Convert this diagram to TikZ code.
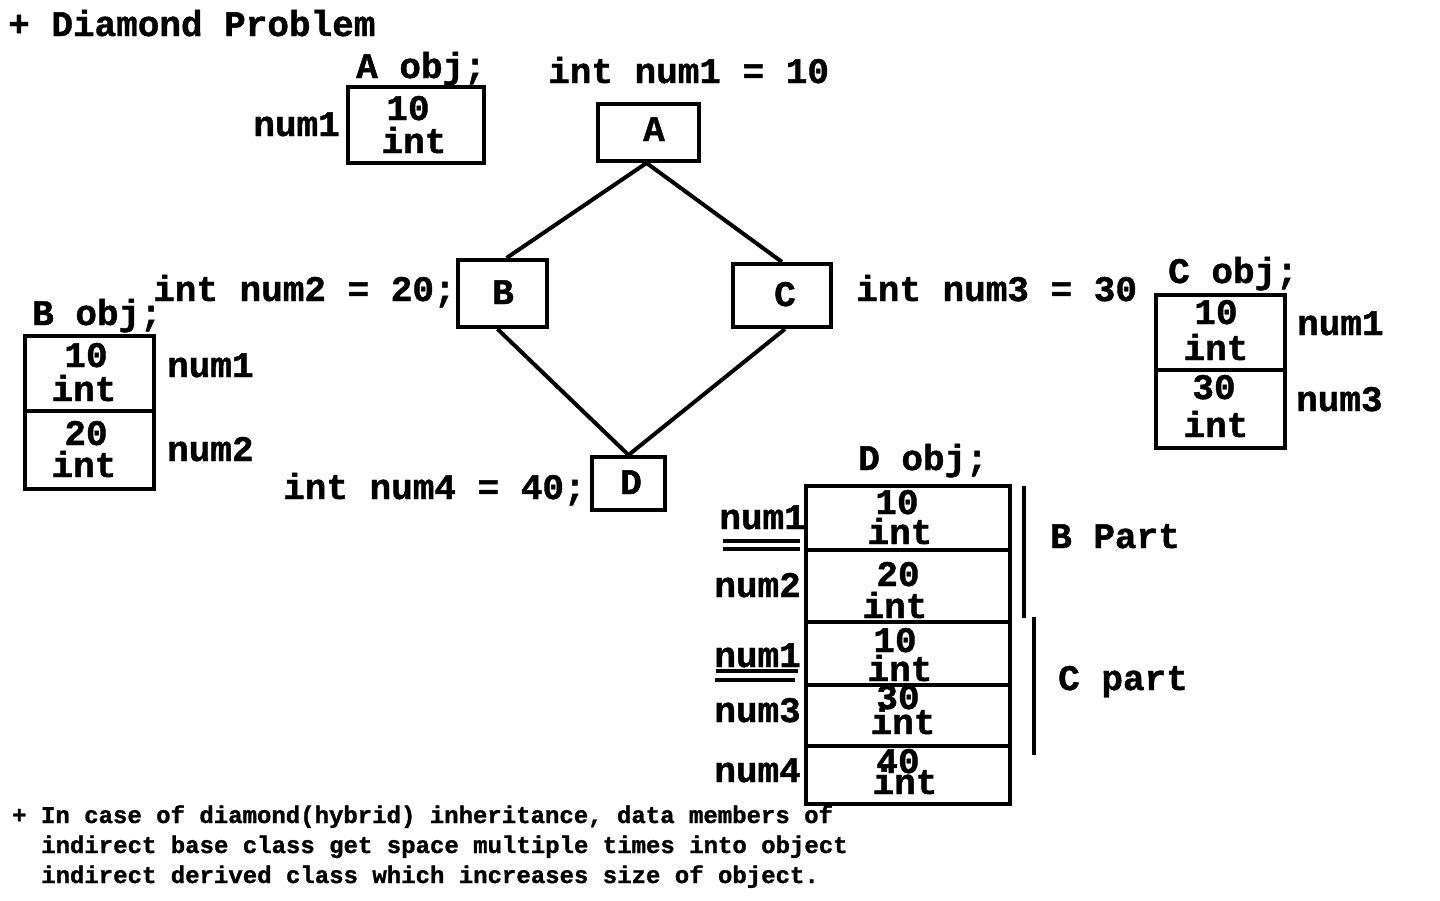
\documentclass[tikz,border=0pt]{standalone}
\usepackage{fontspec}
\newfontfamily\cour{Liberation Mono Bold}[FakeBold=1.2]
\newcommand\bigt{\fontsize{36}{36}\selectfont\cour}
\newcommand\smallt{\fontsize{24}{30}\selectfont\cour}
\begin{document}
\begin{tikzpicture}[x=1pt,y=-1pt,
  txt/.style={font=\bigt, inner sep=0pt, anchor=base},
  txl/.style={txt, anchor=base west},
  txr/.style={txt, anchor=base east},
  note/.style={font=\smallt, inner sep=0pt, anchor=base west},
  cls/.style={draw, line width=4pt, inner sep=0pt},
  cell/.style={draw, line width=4pt, inner sep=0pt},
  conn/.style={line width=4pt},
  bar/.style={line width=4pt},
  uline/.style={line width=3.5pt}]
\useasboundingbox (0,0) rectangle (1440,900);

% title
\node[txl] (title) at (8,36) {+ Diamond Problem};

% class diagram
\node[cls, minimum width=101pt, minimum height=57pt] (A) at (648.5,132.5) {};
\node[txt] (Alab) at (654,141) {A};
\node[cls, minimum width=89pt, minimum height=67pt] (B) at (502.5,293.5) {};
\node[txt] (Blab) at (503,304) {B};
\node[cls, minimum width=98pt, minimum height=63pt] (C) at (782,295.5) {};
\node[txt] (Clab) at (785,306) {C};
\node[cls, minimum width=73pt, minimum height=53pt] (D) at (628.5,483.5) {};
\node[txt] (Dlab) at (631,494) {D};

\draw[conn] ([xshift=-2pt]A.south) -- ([xshift=4pt]B.north);
\draw[conn] ([xshift=-2pt]A.south) -- (C.north);
\draw[conn] ([xshift=-5pt]B.south) -- (D.north);
\draw[conn] ([xshift=3pt]C.south) -- (D.north);

\node[txl] (decA) at (548,83) {int num1 = 10};
\node[txl] (decB) at (153,301) {int num2 = 20;};
\node[txl] (decC) at (856,301) {int num3 = 30};
\node[txl] (decD) at (283,499) {int num4 = 40;};

% A obj
\node[txl] (Aobj) at (356,78) {A obj;};
\node[cell, minimum width=136pt, minimum height=76pt] (Aobj1) at (416,125) {};
\node[txt] (Av) at (408,120) {10};
\node[txt] (At) at (414,153) {int};
\node[txr] (An1) at (340,136) {num1};

% B obj
\node[txl] (Bobj) at (32,325) {B obj;};
\node[cell, minimum width=129pt, minimum height=75pt] (Bobj1) at (89.5,373.5) {};
\node[cell, minimum width=129pt, minimum height=78pt] (Bobj2) at (89.5,450) {};
\node[txt] (Bv1) at (86,367) {10};
\node[txt] (Bt1) at (84,401) {int};
\node[txt] (Bv2) at (86,445) {20};
\node[txt] (Bt2) at (84,477) {int};
\node[txl] (Bn1) at (167,377) {num1};
\node[txl] (Bn2) at (167,461) {num2};

% C obj
\node[txl] (Cobj) at (1168,283) {C obj;};
\node[cell, minimum width=129pt, minimum height=75pt] (Cobj1) at (1220.5,332.5) {};
\node[cell, minimum width=129pt, minimum height=78pt] (Cobj2) at (1220.5,409) {};
\node[txt] (Cv1) at (1216,324) {10};
\node[txt] (Ct1) at (1216,360) {int};
\node[txt] (Cv2) at (1214,399) {30};
\node[txt] (Ct2) at (1216,437) {int};
\node[txl] (Cn1) at (1297,335) {num1};
\node[txl] (Cn3) at (1296,411) {num3};

% D obj
\node[txl] (Dobj) at (858,470) {D obj;};
\node[cell, minimum width=204pt, minimum height=64pt] (Dc1) at (908,518) {};
\node[cell, minimum width=204pt, minimum height=72pt] (Dc2) at (908,586) {};
\node[cell, minimum width=204pt, minimum height=63pt] (Dc3) at (908,653.5) {};
\node[cell, minimum width=204pt, minimum height=61pt] (Dc4) at (908,715.5) {};
\node[cell, minimum width=204pt, minimum height=58pt] (Dc5) at (908,775) {};
\node[txt] (Dv1) at (897,514) {10};
\node[txt] (Dt1) at (900,544) {int};
\node[txt] (Dv2) at (898,586) {20};
\node[txt] (Dt2) at (895,618) {int};
\node[txt] (Dv3) at (895,652) {10};
\node[txt] (Dt3) at (900,681) {int};
\node[txt] (Dv4) at (898,709) {30};
\node[txt] (Dt4) at (903,734) {int};
\node[txt] (Dv5) at (898,773) {40};
\node[txt] (Dt5) at (905,794) {int};

\node[txr] (Dn1) at (806,529) {num1};
\node[txr] (Dn2) at (801,597) {num2};
\node[txr] (Dn1b) at (801,667) {num1};
\node[txr] (Dn3) at (801,722) {num3};
\node[txr] (Dn4) at (801,782) {num4};

\coordinate (u1a) at (723,541); \coordinate (u1b) at (800,541);
\coordinate (u2a) at (723,549); \coordinate (u2b) at (800,549);
\coordinate (u3a) at (716,671); \coordinate (u3b) at (798,671);
\coordinate (u4a) at (715,680); \coordinate (u4b) at (795,680);
\draw[uline] (u1a) -- (u1b);
\draw[uline] (u2a) -- (u2b);
\draw[uline] (u3a) -- (u3b);
\draw[uline] (u4a) -- (u4b);

\coordinate (bpT) at (1024,486); \coordinate (bpB) at (1024,618);
\coordinate (cpT) at (1034,617); \coordinate (cpB) at (1034,755);
\draw[bar] (bpT) -- (bpB);
\draw[bar] (cpT) -- (cpB);
\node[txl] (Bpart) at (1050,548) {B Part};
\node[txl] (Cpart) at (1058,690) {C part};

% footnote
\node[note] (note1) at (12,823) {+ In case of diamond(hybrid) inheritance, data members of};
\node[note] (note2) at (41,853) {indirect base class get space multiple times into object};
\node[note] (note3) at (41,883) {indirect derived class which increases size of object.};
\end{tikzpicture}
\end{document}
